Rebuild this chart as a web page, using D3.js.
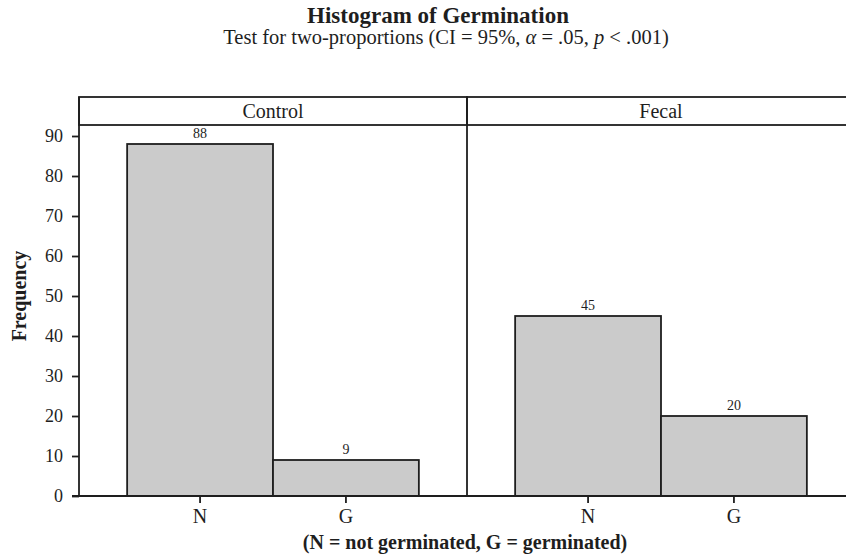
<!DOCTYPE html>
<html>
<head>
<meta charset="utf-8">
<script src="https://cdn.jsdelivr.net/npm/d3@7"></script>
<style>
  body { margin: 0; background: #fff; }
  svg { display: block; font-family: "Liberation Serif", "Times New Roman", serif; }
</style>
</head>
<body>
<svg id="chart" width="846" height="560"></svg>
<script>
// data
const panels = ['Control', 'Fecal']
const categories = ['N', 'G']
const controlValues = [88, 9]
const fecalValues = [45, 20]
const yTicks = [0, 10, 20, 30, 40, 50, 60, 70, 80, 90]

const values = { Control: controlValues, Fecal: fecalValues }

const svg = d3.select('#chart')
const plotLeft = 79, plotTop = 97, stripH = 28, plotBottom = 496
const panelW = 388
const ink = '#1e1e1e'
const serif = '"Liberation Serif", "Times New Roman", serif'

const y = d3.scaleLinear().domain([0, 92.75]).range([plotBottom, plotTop + stripH])
const px = d3.scaleBand().domain(panels).range([plotLeft, plotLeft + panelW * 2])
const x = d3.scaleBand().domain(categories).range([0, panelW]).paddingInner(0).paddingOuter(0.33)

// titles
svg.append('text')
  .attr('x', 438).attr('y', 23)
  .attr('text-anchor', 'middle')
  .attr('font-size', 23).attr('font-weight', 'bold')
  .attr('fill', ink)
  .text('Histogram of Germination')

const sub = svg.append('text')
  .attr('x', 446).attr('y', 44)
  .attr('text-anchor', 'middle')
  .attr('font-size', 20.5)
  .attr('fill', ink)
sub.append('tspan').text('Test for two-proportions (CI = 95%, ')
sub.append('tspan').attr('font-style', 'italic').text('α')
sub.append('tspan').text(' = .05, ')
sub.append('tspan').attr('font-style', 'italic').text('p')
sub.append('tspan').text(' < .001)')

// panels
panels.forEach(p => {
  const g = svg.append('g').attr('transform', `translate(${px(p)},0)`)
  const rows = categories.map((c, i) => ({ c, v: values[p][i] }))

  g.selectAll('rect.bar')
    .data(rows)
    .join('rect')
      .attr('class', 'bar')
      .attr('x', d => x(d.c))
      .attr('y', d => y(d.v))
      .attr('width', x.bandwidth())
      .attr('height', d => y(0) - y(d.v))
      .attr('fill', '#cbcbcb')
      .attr('stroke', ink)
      .attr('stroke-width', 1.8)

  g.selectAll('text.val')
    .data(rows)
    .join('text')
      .attr('class', 'val')
      .attr('x', d => x(d.c) + x.bandwidth() / 2)
      .attr('y', d => y(d.v) - 6)
      .attr('text-anchor', 'middle')
      .attr('font-size', 14)
      .attr('fill', ink)
      .text(d => d.v)

  // strip header
  g.append('rect')
    .attr('x', 0).attr('y', plotTop)
    .attr('width', panelW).attr('height', stripH)
    .attr('fill', '#fff')
    .attr('stroke', ink).attr('stroke-width', 1.8)
  g.append('text')
    .attr('x', panelW / 2).attr('y', plotTop + 21)
    .attr('text-anchor', 'middle')
    .attr('font-size', 20)
    .attr('fill', ink)
    .text(p)

  // panel left border
  g.append('line')
    .attr('x1', 0).attr('x2', 0)
    .attr('y1', plotTop).attr('y2', plotBottom)
    .attr('stroke', ink).attr('stroke-width', 1.8)

  // x axis
  const xa = g.append('g')
    .attr('transform', `translate(0,${plotBottom})`)
    .call(d3.axisBottom(x).tickSize(7).tickPadding(6))
  xa.select('.domain').remove()
  xa.selectAll('line').attr('stroke', ink).attr('stroke-width', 1.8)
  xa.selectAll('text')
    .attr('font-family', serif)
    .attr('font-size', 20).attr('fill', ink)
})

// baseline
svg.append('line')
  .attr('x1', plotLeft - 7).attr('x2', 846)
  .attr('y1', plotBottom).attr('y2', plotBottom)
  .attr('stroke', ink).attr('stroke-width', 1.8)

// y axis
const ya = svg.append('g')
  .attr('transform', `translate(${plotLeft},0)`)
  .call(d3.axisLeft(y).tickValues(yTicks).tickSize(7).tickPadding(9))
ya.select('.domain').remove()
ya.selectAll('line').attr('stroke', ink).attr('stroke-width', 1.8)
ya.selectAll('text')
  .attr('font-family', serif)
  .attr('font-size', 18).attr('fill', ink)

// axis titles
svg.append('text')
  .attr('transform', 'translate(26,296) rotate(-90)')
  .attr('text-anchor', 'middle')
  .attr('font-size', 20).attr('font-weight', 'bold')
  .attr('fill', ink)
  .text('Frequency')

svg.append('text')
  .attr('x', 465).attr('y', 549)
  .attr('text-anchor', 'middle')
  .attr('font-size', 20).attr('font-weight', 'bold')
  .attr('fill', ink)
  .text('(N = not germinated, G = germinated)')
</script>
</body>
</html>
